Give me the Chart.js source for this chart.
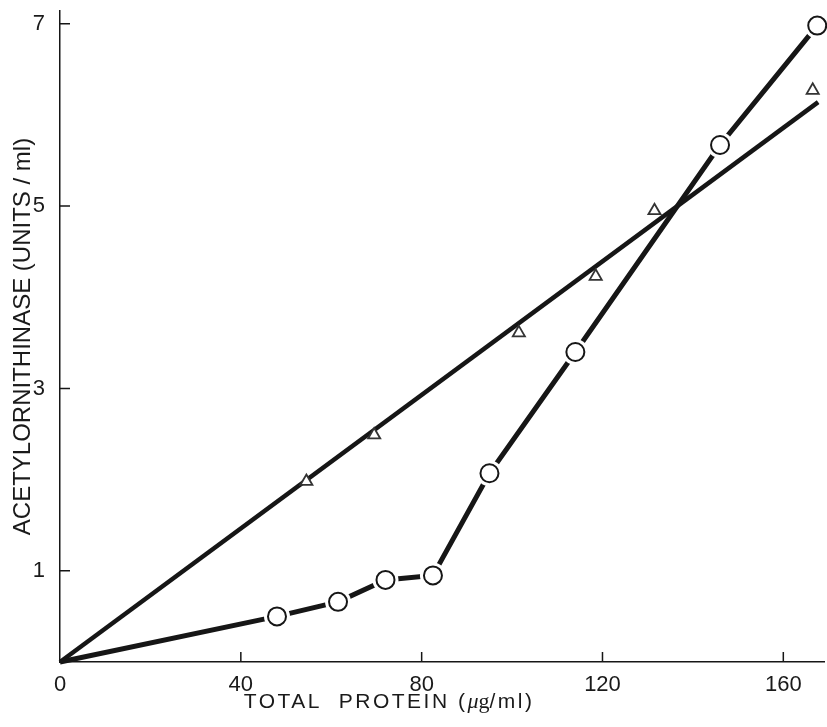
<!DOCTYPE html>
<html>
<head>
<meta charset="utf-8">
<script src="https://cdn.jsdelivr.net/npm/chart.js@4"></script>
<style>
  html, body { margin: 0; padding: 0; background: #fff; }
  canvas { display: block; }
</style>
</head>
<body>
<canvas id="chart" width="827" height="727"></canvas>
<script>
// circles: measured points, joined point to point from the origin
const circleX = [0, 48, 61.5, 72, 82.5, 95, 114, 146, 167.5];
const circleY = [0, 0.50, 0.66, 0.90, 0.95, 2.07, 3.40, 5.67, 6.98];
// triangles: measured points plus their straight fitted line
const triangleX = [54.5, 69.5, 101.5, 118.5, 131.5, 166.5];
const triangleY = [1.98, 2.49, 3.61, 4.23, 4.95, 6.27];
const fitX = [0, 167.7];
const fitY = [0, 6.14];
// axis ticks
const xTicks = [0, 40, 80, 120, 160];
const xTickMarks = [40, 80, 120, 160];
const yTicks = [1, 3, 5, 7];

const ink = '#161616';
const pts = (xs, ys) => xs.map((x, i) => ({ x: x, y: ys[i] }));

// tick marks point inward, like the original drawing
const innerTicks = {
    id: 'innerTicks',
    afterDraw(chart) {
        const { ctx, chartArea, scales } = chart;
        ctx.save();
        ctx.strokeStyle = ink;
        ctx.lineWidth = 1.5;
        ctx.beginPath();
        xTickMarks.forEach(v => {
            const px = scales.x.getPixelForValue(v);
            ctx.moveTo(px, chartArea.bottom);
            ctx.lineTo(px, chartArea.bottom - 10);
        });
        yTicks.forEach(v => {
            const py = scales.y.getPixelForValue(v);
            ctx.moveTo(chartArea.left, py);
            ctx.lineTo(chartArea.left + 10, py);
        });
        ctx.stroke();
        ctx.restore();
    }
};

// x title: sans text with a serif "μg", sits left of centre in the original
const xTitle = {
    id: 'xTitle',
    afterDraw(chart) {
        const { ctx, chartArea, scales } = chart;
        const parts = [
            { t: 'TOTAL  PROTEIN (', f: '21px "Liberation Sans"', s: '2.5px' },
            { t: 'μ', f: 'italic 22px "Liberation Serif"', s: '0px' },
            { t: 'g', f: '22px "Liberation Serif"', s: '0px' },
            { t: '/ml)', f: '21px "Liberation Sans"', s: '2.5px' }
        ];
        ctx.save();
        ctx.fillStyle = '#1a1a1a';
        ctx.textBaseline = 'alphabetic';
        let total = 0;
        parts.forEach(p => {
            ctx.font = p.f;
            ctx.letterSpacing = p.s;
            p.w = ctx.measureText(p.t).width;
            total += p.w;
        });
        let x = scales.x.getPixelForValue(72.8) - total / 2;
        const y = chartArea.bottom + 46;
        parts.forEach(p => {
            ctx.font = p.f;
            ctx.letterSpacing = p.s;
            ctx.textAlign = 'left';
            ctx.fillText(p.t, x, y);
            x += p.w;
        });
        ctx.restore();
    }
};

const circlePoints = pts(circleX, circleY).slice(1);

new Chart(document.getElementById('chart'), {
    type: 'scatter',
    data: {
        datasets: [
            {
                data: pts(fitX, fitY),
                showLine: true,
                borderColor: ink,
                borderWidth: 4.5,
                pointRadius: 0,
                order: 5
            },
            {
                data: pts(circleX, circleY),
                showLine: true,
                borderColor: ink,
                borderWidth: 5,
                pointRadius: 0,
                order: 4
            },
            {
                // white gap round each circle
                data: circlePoints,
                pointRadius: 13,
                pointBackgroundColor: '#fff',
                pointBorderWidth: 0,
                order: 3
            },
            {
                data: circlePoints,
                pointRadius: 9,
                pointBackgroundColor: '#fff',
                pointBorderColor: ink,
                pointBorderWidth: 2,
                order: 2
            },
            {
                data: pts(triangleX, triangleY),
                pointStyle: 'triangle',
                pointRadius: 7,
                pointBackgroundColor: '#fff',
                pointBorderColor: '#333',
                pointBorderWidth: 1.8,
                order: 1
            }
        ]
    },
    options: {
        responsive: false,
        animation: false,
        events: [],
        clip: false,
        layout: { autoPadding: false, padding: { top: 11, right: 3, left: 0, bottom: 0 } },
        plugins: {
            legend: { display: false },
            tooltip: { enabled: false }
        },
        scales: {
            x: {
                type: 'linear',
                min: 0,
                max: 169,
                grid: { display: false },
                border: { display: true, color: ink, width: 1.5 },
                afterBuildTicks: scale => { scale.ticks = xTicks.map(v => ({ value: v })); },
                afterFit: scale => {
                    scale.height = 65;
                    scale.paddingLeft = 0;
                    scale.paddingRight = 0;
                },
                ticks: {
                    color: '#1a1a1a',
                    padding: 2,
                    maxRotation: 0,
                    font: { family: 'Liberation Sans', size: 22 }
                },
                title: { display: false }
            },
            y: {
                type: 'linear',
                min: 0,
                max: 7.14,
                grid: { display: false },
                border: { display: true, color: ink, width: 1.5 },
                afterBuildTicks: scale => { scale.ticks = yTicks.map(v => ({ value: v })); },
                afterFit: scale => {
                    scale.width = 60;
                    scale.paddingTop = 0;
                    scale.paddingBottom = 0;
                },
                ticks: {
                    color: '#1a1a1a',
                    padding: 7,
                    font: { family: 'Liberation Sans', size: 22 }
                },
                title: {
                    display: true,
                    text: 'ACETYLORNITHINASE (UNITS / ml)',
                    color: '#1a1a1a',
                    padding: { top: 9, bottom: 0 },
                    font: { family: 'Liberation Sans', size: 24 }
                }
            }
        }
    },
    plugins: [innerTicks, xTitle]
});
</script>
</body>
</html>
